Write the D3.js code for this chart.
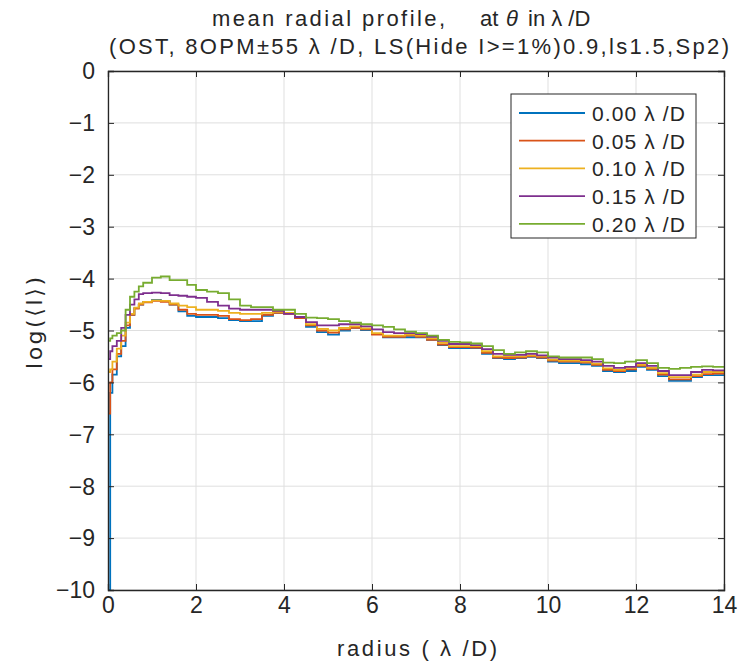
<!DOCTYPE html>
<html>
<head>
<meta charset="utf-8">
<script src="https://cdn.jsdelivr.net/npm/d3@7"></script>
<style>
  body { margin: 0; background: #fff; }
  text { font-family: "Liberation Sans", Arial, sans-serif; fill: #262626; }
</style>
</head>
<body>
<div id="chart"></div>
<script>
// radius grid in lambda/D
var radius = [0, 0.05, 0.1, 0.2, 0.3, 0.4, 0.5, 0.6, 0.7, 0.8, 1.0, 1.2, 1.4, 1.6, 1.8, 2.0,
  2.25, 2.5, 2.75, 3.0, 3.25, 3.5, 3.75, 4.0, 4.25, 4.5, 4.75, 5.0, 5.25, 5.5, 5.75, 6.0,
  6.25, 6.5, 6.75, 7.0, 7.25, 7.5, 7.75, 8.0, 8.25, 8.5, 8.75, 9.0, 9.25, 9.5, 9.75, 10.0,
  10.25, 10.5, 10.75, 11.0, 11.25, 11.5, 11.75, 12.0, 12.25, 12.5, 12.75, 13.0, 13.25, 13.5, 13.75, 14.0];

var prof000 = [-10, -6.2, -5.85, -5.5, -5.3, -4.95, -4.7, -4.57, -4.5, -4.45, -4.41, -4.43, -4.5, -4.63, -4.72, -4.74,
  -4.74, -4.76, -4.8, -4.82, -4.82, -4.72, -4.66, -4.66, -4.76, -4.93, -5.03, -5.08, -5.0, -4.95, -4.99, -5.07,
  -5.13, -5.13, -5.13, -5.13, -5.18, -5.28, -5.34, -5.34, -5.34, -5.45, -5.53, -5.55, -5.53, -5.51, -5.53, -5.6,
  -5.63, -5.63, -5.65, -5.68, -5.78, -5.8, -5.78, -5.7, -5.76, -5.88, -5.97, -5.97, -5.9, -5.86, -5.86, -5.86];
var prof005 = [-6.6, -6.0, -5.75, -5.45, -5.2, -4.9, -4.7, -4.58, -4.5, -4.46, -4.43, -4.45, -4.5, -4.6, -4.68, -4.7,
  -4.7, -4.72, -4.78, -4.8, -4.78, -4.7, -4.66, -4.68, -4.76, -4.9, -5.0, -5.04, -4.98, -4.95, -4.98, -5.08,
  -5.12, -5.12, -5.1, -5.12, -5.18, -5.27, -5.32, -5.32, -5.33, -5.43, -5.52, -5.53, -5.52, -5.5, -5.52, -5.58,
  -5.6, -5.6, -5.62, -5.66, -5.76, -5.78, -5.75, -5.68, -5.74, -5.85, -5.94, -5.94, -5.88, -5.84, -5.83, -5.83];
var prof010 = [-5.8, -5.75, -5.6, -5.35, -5.1, -4.85, -4.68, -4.56, -4.48, -4.45, -4.42, -4.43, -4.48, -4.52, -4.55, -4.6,
  -4.6, -4.62, -4.66, -4.68, -4.68, -4.66, -4.64, -4.66, -4.74, -4.88, -4.97, -5.0, -4.95, -4.92, -4.96, -5.05,
  -5.1, -5.1, -5.08, -5.1, -5.15, -5.24, -5.3, -5.3, -5.3, -5.4, -5.5, -5.5, -5.5, -5.48, -5.5, -5.56,
  -5.58, -5.58, -5.6, -5.64, -5.73, -5.76, -5.72, -5.66, -5.72, -5.82, -5.9, -5.9, -5.85, -5.8, -5.8, -5.8];
var prof015 = [-5.55, -5.4, -5.3, -5.2, -4.95, -4.7, -4.5, -4.4, -4.3, -4.28, -4.27, -4.28, -4.32, -4.33, -4.35, -4.37,
  -4.45, -4.52, -4.58, -4.6, -4.6, -4.6, -4.62, -4.68, -4.74, -4.84, -4.9, -4.9, -4.88, -4.88, -4.92, -4.98,
  -5.03, -5.05, -5.05, -5.07, -5.12, -5.2, -5.26, -5.26, -5.28, -5.36, -5.45, -5.47, -5.47, -5.45, -5.48, -5.52,
  -5.55, -5.55, -5.57, -5.6, -5.68, -5.72, -5.7, -5.63, -5.68, -5.78, -5.86, -5.86, -5.8, -5.76, -5.77, -5.78];
var prof020 = [-5.2, -5.15, -5.1, -5.05, -5.0, -4.6, -4.35, -4.25, -4.15, -4.08, -3.98, -3.96, -4.03, -4.03, -4.12, -4.22,
  -4.25, -4.28, -4.4, -4.52, -4.55, -4.55, -4.6, -4.6, -4.68, -4.75, -4.76, -4.78, -4.82, -4.85, -4.88, -4.9,
  -4.93, -4.98, -5.02, -5.05, -5.1, -5.18, -5.22, -5.23, -5.25, -5.3, -5.38, -5.45, -5.42, -5.4, -5.42, -5.5,
  -5.52, -5.52, -5.52, -5.55, -5.62, -5.63, -5.6, -5.57, -5.63, -5.72, -5.74, -5.72, -5.7, -5.69, -5.7, -5.7];

var seriesNames = ["0.00 λ /D", "0.05 λ /D", "0.10 λ /D", "0.15 λ /D", "0.20 λ /D"];
var seriesColors = ["#0072BD", "#D95319", "#EDB120", "#7E2F8E", "#77AC30"];
var seriesValues = [prof000, prof005, prof010, prof015, prof020];

var xTicks = [0, 2, 4, 6, 8, 10, 12, 14];
var yTicks = [0, -1, -2, -3, -4, -5, -6, -7, -8, -9, -10];

var W = 756, H = 664;
var margin = {left: 108, right: 32, top: 71, bottom: 74};
var pw = W - margin.left - margin.right;
var ph = H - margin.top - margin.bottom;

var svg = d3.select("#chart").append("svg")
  .attr("width", W).attr("height", H);

var x = d3.scaleLinear().domain([0, 14]).range([0, pw]);
var y = d3.scaleLinear().domain([-10, 0]).range([ph, 0]);

var g = svg.append("g").attr("transform", "translate(" + margin.left + "," + margin.top + ")");

// grid
g.append("g").selectAll("line").data(xTicks).enter().append("line")
  .attr("x1", d => x(d)).attr("x2", d => x(d)).attr("y1", 0).attr("y2", ph)
  .attr("stroke", "#dfdfdf").attr("stroke-width", 1);
g.append("g").selectAll("line").data(yTicks).enter().append("line")
  .attr("y1", d => y(d)).attr("y2", d => y(d)).attr("x1", 0).attr("x2", pw)
  .attr("stroke", "#dfdfdf").attr("stroke-width", 1);

// lines
g.append("clipPath").attr("id", "clip").append("rect")
  .attr("width", pw).attr("height", ph + 1);

var line = d3.line()
  .x((d, i) => x(radius[i]))
  .y(d => y(d))
  .curve(d3.curveStepAfter);

var lines = g.append("g").attr("clip-path", "url(#clip)");
seriesValues.forEach(function(vals, k){
  lines.append("path")
    .attr("d", line(vals))
    .attr("fill", "none")
    .attr("stroke", seriesColors[k])
    .attr("stroke-width", 1.8);
});

// axes (box, inward ticks)
var xAxis = d3.axisBottom(x).tickValues(xTicks).tickSize(-6).tickPadding(7).tickFormat(d3.format("d"));
var yAxis = d3.axisLeft(y).tickValues(yTicks).tickSize(-6).tickPadding(13)
  .tickFormat(d => d < 0 ? "\u2212" + Math.abs(d) : d);

var gx = g.append("g").attr("transform", "translate(0," + ph + ")").call(xAxis);
var gy = g.append("g").call(yAxis);
var gx2 = g.append("g").call(d3.axisTop(x).tickValues(xTicks).tickSize(-6).tickFormat(""));
var gy2 = g.append("g").attr("transform", "translate(" + pw + ",0)")
  .call(d3.axisRight(y).tickValues(yTicks).tickSize(-6).tickFormat(""));

[gx, gy, gx2, gy2].forEach(function(a){
  a.select(".domain").attr("stroke", "#262626").attr("stroke-width", 1.3);
  a.selectAll(".tick line").attr("stroke", "#262626");
  a.selectAll(".tick text").attr("font-size", 23).attr("fill", "#262626")
    .style("font-family", '"Liberation Sans", Arial, sans-serif');
});
gy.selectAll(".tick text").attr("dy", "0.34em");

// titles (first line in pieces to keep the wide gap)
svg.append("text").attr("x", 212).attr("y", 26).attr("font-size", 22)
  .attr("textLength", 233).text("mean radial profile,");
svg.append("text").attr("x", 480).attr("y", 26).attr("font-size", 22).text("at");
svg.append("text").attr("x", 506).attr("y", 26).attr("font-size", 22)
  .style("font-style", "italic").text("θ");
svg.append("text").attr("x", 528).attr("y", 26).attr("font-size", 22).text("in λ /D");

svg.append("text").attr("x", 109).attr("y", 54)
  .attr("font-size", 22).attr("textLength", 620)
  .text("(OST, 8OPM±55 λ /D, LS(Hide I>=1%)0.9,ls1.5,Sp2)");

svg.append("text").attr("x", 337).attr("y", 656)
  .attr("font-size", 22).attr("textLength", 160).text("radius ( λ /D)");
svg.append("text")
  .attr("transform", "translate(42," + 323 + ") rotate(-90)")
  .attr("text-anchor", "middle").attr("font-size", 22)
  .style("font-family", '"DejaVu Sans", sans-serif')
  .attr("textLength", 92).text("log(⟨I⟩)");

// legend
var leg = svg.append("g").attr("transform", "translate(511,94)");
leg.append("rect").attr("width", 185).attr("height", 144)
  .attr("fill", "#fff").attr("stroke", "#262626").attr("stroke-width", 1);
seriesNames.forEach(function(name, k){
  var ly = 19 + k * 27.7;
  leg.append("line").attr("x1", 8).attr("x2", 74).attr("y1", ly).attr("y2", ly)
    .attr("stroke", seriesColors[k]).attr("stroke-width", 1.8);
  leg.append("text").attr("x", 81).attr("y", ly + 8).attr("font-size", 21)
    .attr("textLength", 93).text(name);
});
</script>
</body>
</html>
